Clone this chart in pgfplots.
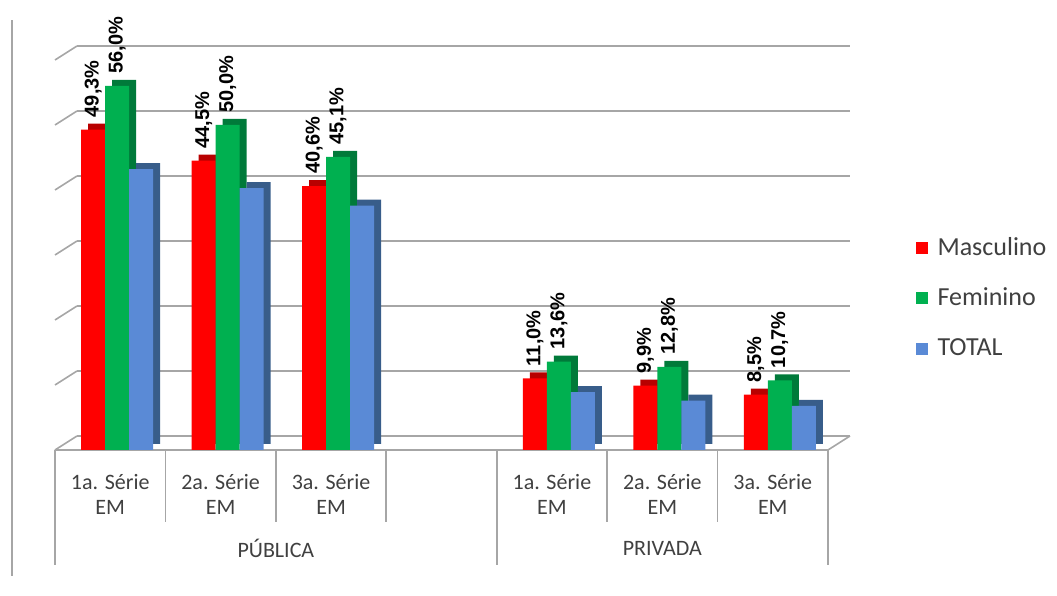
\documentclass[border=0pt]{standalone}
\usepackage{fontspec}
\setmainfont{Carlito}
\newfontfamily\labfont{Liberation Sans}
\usepackage{pgfplots}
\usepackage{pgfplotstable}
\pgfplotsset{compat=1.18}
\definecolor{cred}{HTML}{FF0000}
\definecolor{cgreen}{HTML}{00B050}
\definecolor{cblue}{HTML}{5A8AD6}
\definecolor{dred}{HTML}{B80000}
\definecolor{dgreen}{HTML}{007A3A}
\definecolor{dblue}{HTML}{385D8A}
\definecolor{gridc}{HTML}{A6A6A6}
\definecolor{txt}{HTML}{404040}
\pgfplotsset{sq/.style={legend image code/.code={\fill[##1] (0pt,-3pt) rectangle (6pt,3pt);}}}

\pgfplotstableread{
x m f t
0 49.3 56.0 43.2
1 44.5 50.0 40.3
2 40.6 45.1 37.6
4 11.0 13.6 8.9
5 9.9 12.8 7.6
6 8.5 10.7 6.8
}\data

\begin{document}
\begin{tikzpicture}
\path (0,0) rectangle (528.5pt,288pt);
\draw[gridc, line width=0.8pt] (6pt,0) -- (6pt,278pt);
\begin{axis}[at={(27.5pt,63pt)}, anchor=south west, scale only axis,
  width=386.5pt, height=195pt,
  xmin=-0.5, xmax=6.5, ymin=0, ymax=60, clip=false,
  ybar, bar width=12pt,
  axis lines*=left,
  y axis line style={draw=none},
  x axis line style={gridc, line width=0.8pt},
  xtick={0,1,2,4,5,6},
  xticklabels={1a. Série\\EM,2a. Série\\EM,3a. Série\\EM,1a. Série\\EM,2a. Série\\EM,3a. Série\\EM},
  minor xtick={-0.5,0.5,...,6.5},
  major tick length=0pt,
  minor tick length=36pt,
  tick align=outside,
  every tick/.style={gridc, line width=0.8pt},
  extra x ticks={-0.5,3.5,6.5},
  extra x tick labels={},
  extra x tick style={major tick length=57.5pt, tick align=outside},
  ytick={0,10,...,60}, yticklabels={},
  ymajorgrids,
  grid style={gridc, line width=0.8pt, xshift=11pt, yshift=7pt},
  xticklabel style={font=\fontsize{11}{12.5}\selectfont, text=txt, align=center, yshift=-8.5pt},
  legend style={at={(1.105,0.39)}, anchor=west, draw=none, fill=none,
    font=\fontsize{13}{15}\selectfont, text=txt, row sep=11pt,
    /tikz/every odd column/.append style={column sep=3pt},
    /tikz/every even column/.append style={column sep=3pt}},
  legend cell align=left,
  lbl/.style={nodes near coords={\pgfmathprintnumber[fixed,fixed zerofill,precision=1,use comma,assume math mode=true]{\pgfplotspointmeta}\%},
    nodes near coords style={rotate=90, anchor=west, font=\labfont\bfseries\fontsize{10}{12}\selectfont, text=black, inner xsep=6pt, inner ysep=1pt}},
]
% 3D depth faces
\addplot[fill=dred, draw=none, bar shift=-5pt, yshift=3pt, forget plot] table[x=x,y=m]{\data};
\addplot[fill=dgreen, draw=none, bar shift=7pt, yshift=3pt, forget plot] table[x=x,y=f]{\data};
\addplot[fill=dblue, draw=none, bar shift=19pt, yshift=3pt, forget plot] table[x=x,y=t]{\data};
% front faces
\addplot[fill=cred, draw=none, bar shift=-8.5pt, lbl, sq] table[x=x,y=m]{\data};
\addplot[fill=cgreen, draw=none, bar shift=3.5pt, lbl, sq] table[x=x,y=f]{\data};
\addplot[fill=cblue, draw=none, bar shift=15.5pt, sq] table[x=x,y=t]{\data};
\legend{Masculino,Feminino,TOTAL}
% side wall and floor edges
\pgfplotsinvokeforeach{0,10,20,30,40,50,60}{\draw[gridc, line width=0.8pt] (axis cs:-0.5,#1) -- ++(11pt,7pt);}
\draw[gridc, line width=0.8pt] (axis cs:6.5,0) -- ++(11pt,7pt);
\node[font=\fontsize{11}{12.5}\selectfont, text=txt] at (axis cs:1.5,0) [yshift=-49pt] {PÚBLICA};
\node[font=\fontsize{11}{12.5}\selectfont, text=txt] at (axis cs:5,0) [yshift=-49pt] {PRIVADA};
\end{axis}
\end{tikzpicture}
\end{document}
